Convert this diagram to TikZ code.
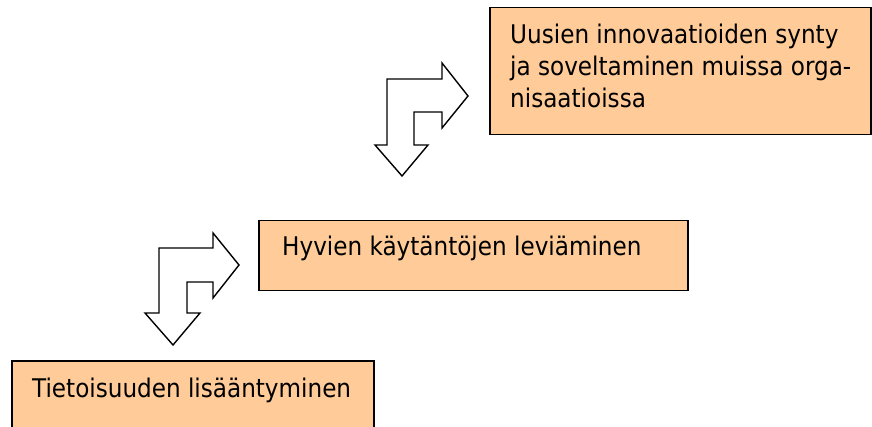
\documentclass[tikz,border=0pt]{standalone}
\usepackage{fontspec}
\setmainfont{DejaVu Sans Condensed}
\usepackage{tikz}
\usetikzlibrary{
  calc,
  positioning,
}
\definecolor{boxorange}{RGB}{255, 204, 153}
\tikzstyle{stepbox} = [
  draw,
  rectangle,
  line width=1.5pt,
  fill=boxorange,
  anchor=north west,
  inner sep=0pt,
]
\tikzstyle{steptext} = [
  anchor=base west,
  inner sep=0pt,
  align=left,
  font=\fontsize{25.7}{32}\selectfont,
]
\tikzstyle{bentarrow} = [
  draw,
  line width=1.4pt,
  fill=white,
  line join=miter,
]

\begin{document}
\begin{tikzpicture}[x=1pt, y=-1pt]
      \useasboundingbox (0,0) rectangle (872,427);

      \node[stepbox,minimum width=381,minimum height=127] (uusien) at (489,7) {};
      \node[stepbox,minimum width=429,minimum height=70] (hyvien) at (258,220) {};
      \node[stepbox,minimum width=362,minimum height=90] (tieto) at (11,360) {};

      \node[steptext,anchor=north west] (uusienteksti) at ($(uusien.north west)+(21,16.5)$) {Uusien innovaatioiden synty\\ja soveltaminen muissa orga-\\nisaatioissa};
      \node[steptext] (hyvienteksti) at ($(hyvien.north west)+(24,36)$) {Hyvien käytäntöjen leviäminen};
      \node[steptext] (tietoteksti) at ($(tieto.north west)+(21,37)$) {Tietoisuuden lisääntyminen};

      % taitetut nuolet
      \draw[bentarrow] (402,176) -- (375,145) -- (387,145) -- (387,79) -- (442,79) -- (442,63) -- (468,96) -- (442,128) -- (442,112) -- (414,112) -- (414,145) -- (428,145) -- cycle;
      \draw[bentarrow] (173,345) -- (145,313) -- (159,313) -- (159,248) -- (213,248) -- (213,233) -- (239,265) -- (213,298) -- (213,282) -- (187,282) -- (187,313) -- (200,313) -- cycle;
    \end{tikzpicture}
\end{document}
